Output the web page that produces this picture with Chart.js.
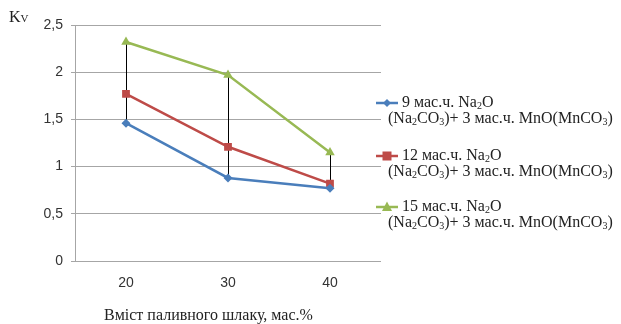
<!DOCTYPE html>
<html>
<head>
<meta charset="utf-8">
<script src="https://cdn.jsdelivr.net/npm/chart.js@4"></script>
<style>
  body { margin: 0; background: #fff; }
  #wrap { position: relative; width: 621px; height: 324px; }
  .txt { position: absolute; font-family: "Liberation Serif", "Times New Roman", serif; color: #222; white-space: nowrap; }
  .legend-item { position: absolute; left: 376px; font-family: "Liberation Serif", serif; font-size: 16px; line-height: 16px; color: #222; white-space: nowrap; }
  .legend-item svg { vertical-align: middle; margin-right: 4px; }
  sub { font-size: 10px; vertical-align: -2px; line-height: 0; }
</style>
</head>
<body>
<div id="wrap">
  <canvas id="chart" width="621" height="324"></canvas>
  <div class="txt" style="left:9px; top:8px; font-size:16px;">K<span style="font-size:11px;">V</span></div>
  <div class="txt" style="left:104px; top:306px; font-size:16px;">Вміст паливного шлаку, мас.%</div>
  <div id="legend"></div>
</div>
<script>
// categories and values
const categories = ['20', '30', '40'];
const series9 = [1.46, 0.88, 0.77];
const series12 = [1.77, 1.21, 0.82];
const series15 = [2.32, 1.97, 1.15];
const yTicks = [0, 0.5, 1, 1.5, 2, 2.5];

const seriesNames = [
  '9 мас.ч. Na<sub>2</sub>O<br>(Na<sub>2</sub>CO<sub>3</sub>)+ 3 мас.ч. MnO(MnCO<sub>3</sub>)',
  '12 мас.ч. Na<sub>2</sub>O<br>(Na<sub>2</sub>CO<sub>3</sub>)+ 3 мас.ч. MnO(MnCO<sub>3</sub>)',
  '15 мас.ч. Na<sub>2</sub>O<br>(Na<sub>2</sub>CO<sub>3</sub>)+ 3 мас.ч. MnO(MnCO<sub>3</sub>)'
];
const colors = ['#4a7ebb', '#be4b48', '#98b954'];
const markers = ['rectRot', 'rect', 'triangle'];

// Excel-like high-low lines between max and min at each category
const highLowPlugin = {
  id: 'highLow',
  beforeDatasetsDraw(chart) {
    const ctx = chart.ctx;
    const x = chart.scales.x, y = chart.scales.y;
    const all = chart.data.datasets.map(d => d.data);
    ctx.save();
    ctx.strokeStyle = '#000';
    ctx.lineWidth = 1;
    categories.forEach((c, i) => {
      const vals = all.map(a => a[i]);
      const px = Math.round(x.getPixelForValue(i)) + 0.5;
      ctx.beginPath();
      ctx.moveTo(px, y.getPixelForValue(Math.max(...vals)));
      ctx.lineTo(px, y.getPixelForValue(Math.min(...vals)));
      ctx.stroke();
    });
    ctx.restore();
  }
};

const ctx = document.getElementById('chart').getContext('2d');
new Chart(ctx, {
  type: 'line',
  data: {
    labels: categories,
    datasets: [series9, series12, series15].map((d, i) => ({
      data: d,
      borderColor: colors[i],
      backgroundColor: colors[i],
      borderWidth: 2.5,
      pointStyle: markers[i],
      pointRadius: i === 0 ? 4.5 : 5.5,
      pointBorderWidth: 0,
      tension: 0
    }))
  },
  options: {
    responsive: false,
    animation: false,
    layout: { padding: { left: 0, right: 240, top: 25, bottom: 0 } },
    plugins: { legend: { display: false }, tooltip: { enabled: false } },
    scales: {
      x: {
        offset: true,
        grid: { display: false, drawTicks: false },
        border: { display: false },
        ticks: { color: '#333', font: { family: 'Liberation Sans', size: 14 }, padding: 14 },
        afterFit(scale) { scale.height = 63; }
      },
      y: {
        min: 0,
        max: 2.5,
        afterBuildTicks(scale) { scale.ticks = yTicks.map(v => ({ value: v })); },
        grid: { color: '#a6a6a6', tickLength: 4 },
        border: { color: '#a6a6a6' },
        ticks: {
          color: '#333',
          font: { family: 'Liberation Sans', size: 14 },
          padding: 8,
          callback: v => String(v).replace('.', ',')
        },
        afterFit(scale) { scale.width = 75; }
      }
    }
  },
  plugins: [highLowPlugin]
});

// legend with subscripts as html text
const legendTops = [94, 147, 198];
const legend = document.getElementById('legend');
seriesNames.forEach((name, i) => {
  const div = document.createElement('div');
  div.className = 'legend-item';
  div.style.top = legendTops[i] + 'px';
  const lines = name.split('<br>');
  let shape;
  if (markers[i] === 'rectRot') shape = '<polygon points="11,3 15,7 11,11 7,7" fill="' + colors[i] + '"/>';
  else if (markers[i] === 'rect') shape = '<rect x="6.5" y="2.5" width="9" height="9" fill="' + colors[i] + '"/>';
  else shape = '<polygon points="11,1.5 16,11 6,11" fill="' + colors[i] + '"/>';
  div.innerHTML = '<div><svg width="22" height="14"><line x1="0" y1="7" x2="22" y2="7" stroke="' + colors[i] + '" stroke-width="2.5"/>' + shape + '</svg>' + lines[0] + '</div>' +
    '<div style="padding-left:12px;">' + lines[1] + '</div>';
  legend.appendChild(div);
});
</script>
</body>
</html>
